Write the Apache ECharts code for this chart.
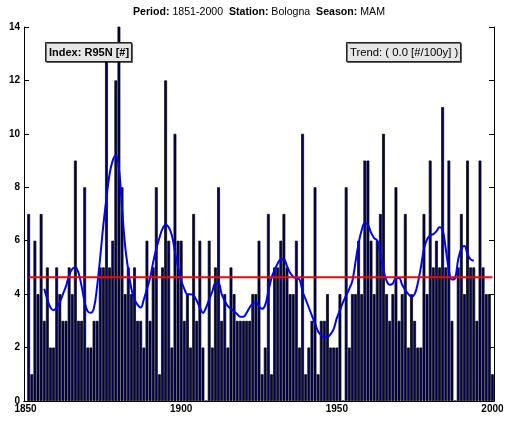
<!DOCTYPE html>
<html><head><meta charset="utf-8">
<script src="https://cdn.jsdelivr.net/npm/echarts@6/dist/echarts.min.js"></script>
<style>html,body{margin:0;padding:0;background:#fff}#c{width:507px;height:423px}</style>
</head><body><div id="c"></div>
<script>
// ---- data ----
const axisStartYear = 1850;
const firstYear = 1851;
const lastYear = 2000;
// R95N counts per year, 1851..2000
const r95n = [
  7,1,6,4,7,3,5,2,2,5,
  4,3,3,5,4,9,3,3,8,2,
  2,3,3,5,5,13,5,6,12,15,
  8,4,5,4,5,3,3,2,6,3,
  5,8,1,5,12,6,2,10,6,6,
  3,4,2,7,3,6,2,0,6,2,
  5,8,3,4,2,5,4,3,3,3,
  3,3,4,4,6,1,2,7,1,5,
  5,6,7,5,4,4,6,2,10,1,
  2,3,8,1,3,3,4,2,2,2,
  4,0,8,2,4,4,6,4,9,9,
  6,4,6,7,10,4,3,4,8,3,
  4,7,2,4,3,2,2,7,4,9,
  5,6,5,11,5,9,3,0,5,7,
  4,9,5,5,3,9,5,4,4,1
];
// smoothed curve, 1856..1994
const smoothStartYear = 1856;
const smoothValues = [
  4.2,3.8,3.5,3.4,3.5,3.7,4.0,4.3,4.7,4.95,
  5.0,4.8,4.3,3.7,3.35,3.3,3.5,4.3,5.4,6.6,
  7.6,8.5,9.0,9.2,8.7,7.2,5.8,4.9,4.2,3.8,
  3.6,3.5,3.8,4.2,4.6,5.2,5.7,6.1,6.45,6.6,
  6.5,6.2,5.6,5.0,4.5,4.2,4.0,4.0,3.95,3.75,
  3.5,3.3,3.5,3.8,4.1,4.4,4.4,4.0,3.75,3.55,
  3.45,3.35,3.25,3.15,3.15,3.3,3.5,3.65,3.7,3.55,
  3.45,3.6,4.1,4.6,4.9,5.15,5.3,5.3,5.05,4.8,
  4.65,4.6,4.55,4.1,3.8,3.5,3.2,2.9,2.6,2.45,
  2.4,2.4,2.5,2.7,3.1,3.4,3.7,3.95,4.2,4.5,
  5.2,5.9,6.4,6.65,6.6,6.3,6.1,6.0,5.5,4.9,
  4.5,4.35,4.4,4.6,4.6,4.35,4.15,4.0,3.9,4.0,
  4.4,5.0,5.7,6.05,6.2,6.25,6.35,6.5,6.4,5.7,
  4.9,4.55,4.6,5.3,5.7,5.8,5.5,5.3,5.25
];
const trendLevel = 4.63;
const xTickYears = [1850, 1900, 1950, 2000];
const yMin = 0, yMax = 14, yStep = 2;

// ---- build ----
const categories = [];
for (let y = axisStartYear; y <= lastYear; y++) categories.push(String(y));
const barData = categories.map(c => {
  const i = +c - firstYear;
  return (i >= 0 && i < r95n.length) ? r95n[i] : null;
});
const smoothData = categories.map(c => {
  const i = +c - smoothStartYear;
  return (i >= 0 && i < smoothValues.length) ? smoothValues[i] : null;
});
const trendData = [[String(firstYear), trendLevel], [String(lastYear), trendLevel]];
const isTick = (idx, val) => xTickYears.indexOf(+categories[idx]) >= 0;

const FONT = '"Liberation Sans", Arial, Helvetica, sans-serif';
const chart = echarts.init(document.getElementById('c'), null, {renderer: 'canvas'});
chart.setOption({
  animation: false,
  backgroundColor: '#fff',
  title: [
    {
      text: '{b|Period:} 1851-2000  {b|Station:} Bologna  {b|Season:} MAM',
      left: 128, top: 2,
      textStyle: {fontFamily: FONT, fontSize: 10.6, fontWeight: 'normal', color: '#000',
        rich: {b: {fontFamily: FONT, fontSize: 10.6, fontWeight: 'bold', color: '#000'}}}
    },
    {
      text: 'Index: R95N [#]', left: 45, top: 42,
      backgroundColor: '#e6e6e6', borderColor: '#222', borderWidth: 1,
      padding: [5, 3, 4, 4],
      shadowColor: 'rgba(0,0,0,0.5)', shadowOffsetX: 1, shadowOffsetY: 1, shadowBlur: 0,
      textStyle: {fontFamily: FONT, fontSize: 11, fontWeight: 'bold', color: '#000'}
    },
    {
      text: 'Trend: ( 0.0 [#/100y] )', left: 346, top: 42,
      backgroundColor: '#e6e6e6', borderColor: '#222', borderWidth: 1,
      padding: [5, 3, 4, 4],
      shadowColor: 'rgba(0,0,0,0.5)', shadowOffsetX: 1, shadowOffsetY: 1, shadowBlur: 0,
      textStyle: {fontFamily: FONT, fontSize: 11.3, fontWeight: 'normal', color: '#000'}
    }
  ],
  grid: {left: 24, right: 13, top: 27, bottom: 22, containLabel: false},
  xAxis: [
    {
      type: 'category', data: categories, boundaryGap: true, position: 'bottom',
      axisLine: {lineStyle: {color: '#000', width: 1}},
      axisTick: {inside: true, length: 5, interval: isTick, alignWithLabel: true, lineStyle: {color: '#000'}},
      axisLabel: {interval: isTick, margin: 3, fontFamily: FONT, fontSize: 10, fontWeight: 'bold', color: '#000'},
      splitLine: {show: false}
    },
    {
      type: 'category', data: categories, boundaryGap: true, position: 'top',
      axisLine: {lineStyle: {color: '#000', width: 1}},
      axisTick: {inside: true, length: 5, interval: isTick, alignWithLabel: true, lineStyle: {color: '#000'}},
      axisLabel: {show: false}, splitLine: {show: false}
    }
  ],
  yAxis: [
    {
      type: 'value', min: yMin, max: yMax, interval: yStep, position: 'left',
      axisLine: {show: true, lineStyle: {color: '#000', width: 1}},
      axisTick: {show: true, inside: true, length: 5, lineStyle: {color: '#000'}},
      axisLabel: {margin: 4, fontFamily: FONT, fontSize: 10, fontWeight: 'bold', color: '#000'},
      splitLine: {show: false}
    },
    {
      type: 'value', min: yMin, max: yMax, interval: yStep, position: 'right',
      axisLine: {show: true, lineStyle: {color: '#000', width: 1}},
      axisTick: {show: true, inside: true, length: 5, lineStyle: {color: '#000'}},
      axisLabel: {show: false}, splitLine: {show: false}
    }
  ],
  series: [
    {
      type: 'bar', data: barData, barCategoryGap: '10%', clip: true,
      itemStyle: {color: '#00005e', borderColor: '#000', borderWidth: 0.7},
      z: 2
    },
    {
      type: 'line', data: smoothData, smooth: 0.4, symbol: 'none', connectNulls: false,
      lineStyle: {color: '#0000ff', width: 2}, z: 3
    },
    {
      type: 'line', data: trendData, symbol: 'none',
      lineStyle: {color: '#ff0000', width: 2}, z: 4
    }
  ]
});
</script></body></html>
